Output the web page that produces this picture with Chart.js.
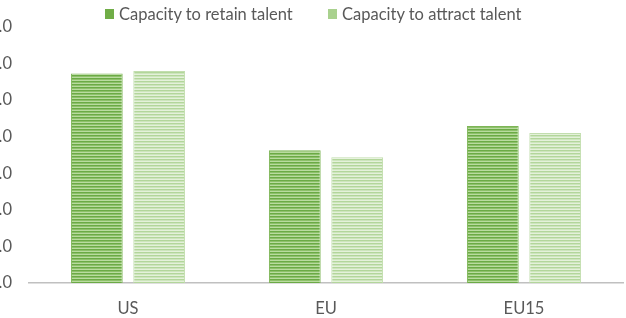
<!DOCTYPE html>
<html>
<head>
<meta charset="utf-8">
<script src="https://cdn.jsdelivr.net/npm/chart.js@4.4.1/dist/chart.umd.min.js"></script>
<style>
  html, body { margin: 0; padding: 0; background: #fff; }
  #wrap { position: relative; width: 626px; height: 318px; }
  #chart { position: absolute; left: 0; top: 0; }
  .lg { position: absolute; top: 4px; font: 16.5px Lato, 'Open Sans', sans-serif; color: #595959; line-height: 20px; white-space: nowrap; }
  .lg i { position: absolute; left: -14px; top: 5px; width: 9px; height: 10px; }
</style>
</head>
<body>
<div id="wrap">
  <canvas id="chart" width="626" height="318"></canvas>
  <div class="lg" id="lg0" style="left:119px"><i></i></div>
  <div class="lg" id="lg1" style="left:342px"><i></i></div>
</div>
<script>
// ── data ──
const categories = ['US', 'EU', 'EU15'];
const seriesNames = ['Capacity to retain talent', 'Capacity to attract talent'];
const retainValues = [5.73, 3.63, 4.29];
const attractValues = [5.80, 3.44, 4.10];
const yTicks = [0, 1, 2, 3, 4, 5, 6, 7];

const FONT = "Lato, 'Open Sans', sans-serif";
const TEXT = '#595959';
const SWATCH = ['#70AD47', '#A9D18E'];

// horizontal stripe fill, like the original's lined bars
function stripes(rows) {
    const c = document.createElement('canvas');
    c.width = 4;
    c.height = rows.length;
    const g = c.getContext('2d');
    rows.forEach((col, i) => { g.fillStyle = col; g.fillRect(0, i, 4, 1); });
    return g.createPattern(c, 'repeat');
}

// legend (html, so spacing matches the original)
seriesNames.forEach((name, i) => {
    const el = document.getElementById('lg' + i);
    el.appendChild(document.createTextNode(name));
    el.querySelector('i').style.background = SWATCH[i];
});

const ctx = document.getElementById('chart').getContext('2d');
const retainFill = stripes(['#6BAA45', '#8DC06A', '#B9DB9F']);
const attractFill = stripes(['#B3D69B', '#CDE5BD', '#E4F1DA']);

new Chart(ctx, {
    type: 'bar',
    data: {
        labels: categories,
        datasets: [
            {
                label: seriesNames[0],
                data: retainValues,
                backgroundColor: retainFill,
                borderColor: '#7DB556',
                borderWidth: 1,
                barPercentage: 0.83,
                categoryPercentage: 0.63,
            },
            {
                label: seriesNames[1],
                data: attractValues,
                backgroundColor: attractFill,
                borderColor: '#C2DEAE',
                borderWidth: 1,
                barPercentage: 0.83,
                categoryPercentage: 0.63,
            },
        ],
    },
    options: {
        responsive: false,
        animation: false,
        layout: { padding: { top: 27, right: 3, bottom: 0, left: 0 } },
        plugins: {
            legend: { display: false },
            tooltip: { enabled: false },
        },
        scales: {
            x: {
                afterFit: axis => { axis.height = 35; },
                grid: { display: false, drawTicks: false },
                border: { color: '#C0C0C0', width: 1.5 },
                ticks: { font: { family: FONT, size: 16.5 }, color: TEXT, padding: 16 },
            },
            y: {
                min: 0,
                max: 7,
                afterFit: axis => { axis.width = 29; },
                afterBuildTicks: axis => { axis.ticks = yTicks.map(v => ({ value: v })); },
                grid: { display: false, drawTicks: false },
                border: { display: false },
                ticks: {
                    font: { family: FONT, size: 16.5 },
                    color: TEXT,
                    padding: 17,
                    callback: v => v.toFixed(1),
                },
            },
        },
    },
});
</script>
</body>
</html>
